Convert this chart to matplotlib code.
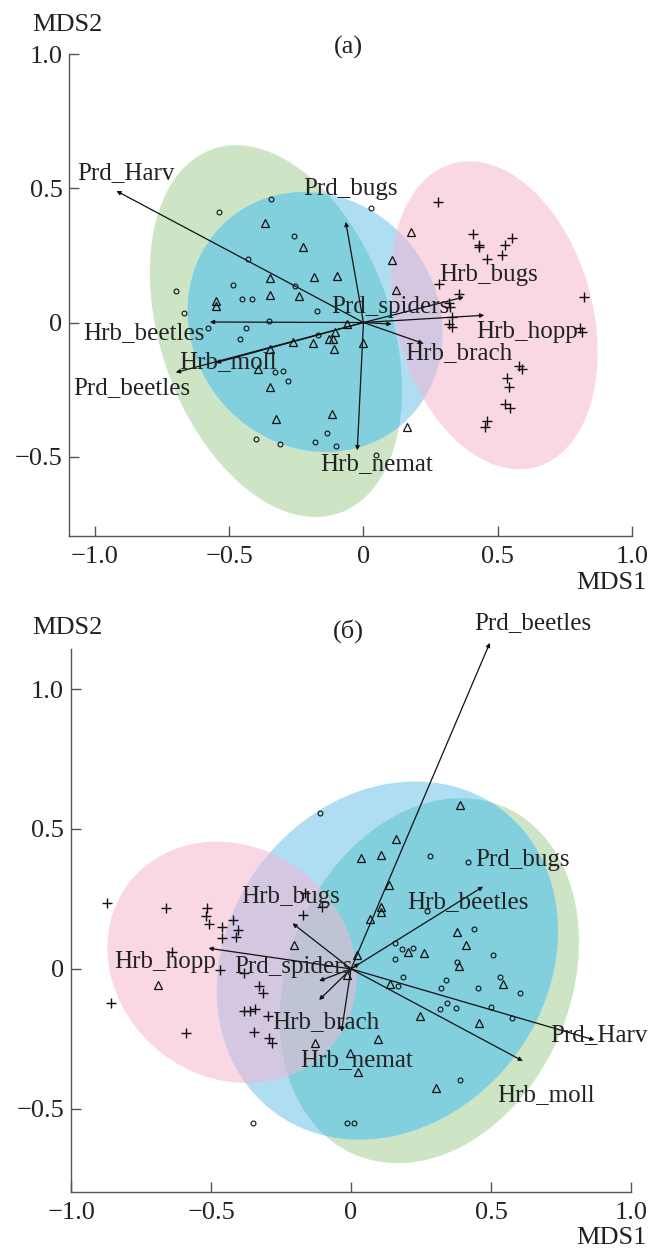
import numpy as np
import matplotlib
matplotlib.use('Agg')
import matplotlib.pyplot as plt
from matplotlib.patches import Ellipse
from matplotlib.ticker import FuncFormatter

plt.rcParams['font.family'] = ['Liberation Serif', 'DejaVu Serif']

# ---------- panel (a) ----------
circ_a_x = [-0.344, -0.538, 0.027, -0.26, -0.429, -0.699, -0.484, -0.256, -0.451, -0.415, -0.173, -0.669, -0.352,
            -0.578, -0.438, -0.458, -0.171, -0.329, -0.299, -0.282, -0.399, -0.311, -0.18, -0.135, -0.104, 0.047]
circ_a_y = [0.459, 0.411, 0.425, 0.323, 0.238, 0.118, 0.139, 0.136, 0.089, 0.086, 0.043, 0.036, 0.006,
            -0.022, -0.022, -0.062, -0.045, -0.184, -0.18, -0.216, -0.435, -0.452, -0.446, -0.413, -0.46, -0.494]
tri_a_x = [-0.367, -0.227, -0.184, -0.098, -0.348, -0.347, -0.24, -0.55, -0.55, -0.063, 0.178, 0.106, 0.122,
           0.161, -0.106, -0.264, -0.188, -0.127, -0.112, -0.111, -0.001, -0.347, -0.392, -0.348, -0.327, -0.117]
tri_a_y = [0.372, 0.28, 0.17, 0.174, 0.166, 0.102, 0.099, 0.08, 0.062, -0.006, 0.337, 0.232, 0.12,
           -0.389, -0.035, -0.072, -0.078, -0.06, -0.062, -0.099, -0.075, -0.099, -0.174, -0.241, -0.359, -0.34]
plus_a_x = [0.279, 0.409, 0.429, 0.432, 0.554, 0.528, 0.517, 0.461, 0.282, 0.82, 0.356, 0.319, 0.322,
            0.329, 0.319, 0.329, 0.807, 0.815, 0.58, 0.589, 0.536, 0.542, 0.528, 0.546, 0.459, 0.453]
plus_a_y = [0.449, 0.331, 0.288, 0.283, 0.315, 0.287, 0.252, 0.237, 0.143, 0.095, 0.105, 0.071, 0.058,
            0.021, -0.004, -0.016, -0.022, -0.035, -0.163, -0.174, -0.205, -0.24, -0.302, -0.32, -0.368, -0.389]

names = ['Prd_Harv', 'Prd_bugs', 'Prd_spiders', 'Prd_beetles', 'Hrb_bugs',
         'Hrb_beetles', 'Hrb_hopp', 'Hrb_brach', 'Hrb_moll', 'Hrb_nemat']
vec_a_x = [-0.92, -0.066, 0.105, -0.699, 0.374, -0.572, 0.45, 0.223, -0.55, -0.023]
vec_a_y = [0.49, 0.375, -0.006, -0.186, 0.095, 0.002, 0.027, -0.078, -0.15, -0.476]
lab_a_x = [-0.885, -0.047, 0.10, -0.862, 0.465, -0.817, 0.608, 0.357, -0.504, 0.05]
lab_a_y = [0.556, 0.496, 0.057, -0.245, 0.176, -0.04, -0.035, -0.115, -0.147, -0.528]

# ellipses: cx, cy, width, height, angle
ell_a = {'g': (-0.326, -0.032, 1.435, 0.86, 109.2),
         'b': (-0.18, 0.002, 1.0, 0.916, -51.3),
         'p': (0.4875, 0.027, 1.172, 0.731, 105.2)}

# ---------- panel (б) ----------
circ_b_x = [-0.111, 0.282, 0.418, 0.272, 0.44, 0.157, 0.181, 0.22, 0.157, 0.507, 0.377, 0.186, 0.169, 0.338,
            0.32, 0.454, 0.534, 0.605, 0.343, 0.317, 0.374, 0.499, 0.575, 0.391, -0.349, -0.015, 0.01]
circ_b_y = [0.556, 0.402, 0.383, 0.207, 0.142, 0.092, 0.07, 0.074, 0.036, 0.05, 0.024, -0.03, -0.06, -0.039,
            -0.067, -0.067, -0.03, -0.087, -0.12, -0.144, -0.14, -0.135, -0.176, -0.396, -0.551, -0.551, -0.551]
tri_b_x = [-0.203, -0.69, -0.128, 0.389, 0.16, 0.108, 0.035, 0.137, 0.107, 0.106, 0.068, 0.022, 0.377,
           0.412, 0.26, 0.204, 0.385, 0.139, 0.543, 0.248, 0.458, 0.097, -0.004, 0.024, 0.304, -0.015]
tri_b_y = [0.086, -0.057, -0.265, 0.586, 0.463, 0.408, 0.398, 0.299, 0.222, 0.205, 0.178, 0.05, 0.133,
           0.087, 0.058, 0.06, 0.012, -0.054, -0.054, -0.167, -0.194, -0.251, -0.301, -0.37, -0.424, -0.02]
plus_b_x = [-0.873, -0.66, -0.514, -0.517, -0.506, -0.423, -0.461, -0.404, -0.461, -0.411, -0.17, -0.166, -0.102,
            -0.639, -0.467, -0.384, -0.33, -0.316, -0.859, -0.384, -0.36, -0.342, -0.295, -0.589, -0.346, -0.292, -0.283]
plus_b_y = [0.237, 0.219, 0.217, 0.19, 0.16, 0.175, 0.151, 0.139, 0.11, 0.113, 0.193, 0.272, 0.222,
            0.062, -0.004, -0.013, -0.061, -0.087, -0.123, -0.152, -0.152, -0.143, -0.168, -0.23, -0.226, -0.248, -0.265]

vec_b_x = [0.87, 0.03, -0.114, 0.496, -0.209, 0.472, -0.509, -0.034, 0.614, -0.114]
vec_b_y = [-0.254, 0.02, -0.043, 1.165, 0.163, 0.294, 0.074, -0.224, -0.329, -0.111]
lab_b_x = [0.885, 0.614, -0.207, 0.649, -0.217, 0.416, -0.663, -0.09, 0.698, 0.021]
lab_b_y = [-0.236, 0.389, 0.008, 1.237, 0.256, 0.24, 0.026, -0.19, -0.45, -0.325]

ell_b = {'g': (0.28, -0.042, 1.352, 1.008, 66.7),
         'b': (0.13, 0.03, 1.352, 1.138, 53.2),
         'p': (-0.4255, 0.0235, 0.929, 0.82, -37.9)}

col = {'g': '#cde5c4', 'b': '#afdef3', 'p': '#f9d8e3'}
teal = '#82cfdd'
lav = '#d4c7e1'
trip = '#bec3d5'


def draw_ellipses(ax, ells):
    pt = {}
    for k in ['g', 'b', 'p']:
        cx, cy, w, h, a = ells[k]
        e = Ellipse((cx, cy), w, h, angle=a, fc=col[k], ec='none', zorder=1)
        ax.add_patch(e)
        pt[k] = e
    # overlaps
    for k, clip, c, z in [('b', 'g', teal, 1.1), ('p', 'b', lav, 1.2), ('p', 'g', trip, 1.3)]:
        cx, cy, w, h, a = ells[k]
        e = Ellipse((cx, cy), w, h, angle=a, fc=c, ec='none', zorder=z)
        ax.add_patch(e)
        e.set_clip_path(pt[clip])


def fmt(v, p):
    if abs(v) < 1e-9:
        return '0'
    return ('%.1f' % v).replace('-', '\u2212')


def setup(ax, xlim, ylim, yticks):
    ax.set_xlim(*xlim)
    ax.set_ylim(*ylim)
    ax.set_aspect('equal', adjustable='box')
    for s in ['top', 'right']:
        ax.spines[s].set_visible(False)
    for s in ['left', 'bottom']:
        ax.spines[s].set_color('#555555')
        ax.spines[s].set_linewidth(1.0)
    ax.set_xticks([-1.0, -0.5, 0, 0.5, 1.0])
    ax.set_yticks(yticks)
    ax.xaxis.set_major_formatter(FuncFormatter(fmt))
    ax.yaxis.set_major_formatter(FuncFormatter(fmt))
    ax.tick_params(direction='in', length=7, width=1, color='#555555', labelsize=19, labelcolor='#222222')
    ax.tick_params(axis='x', pad=7)
    ax.tick_params(axis='y', pad=5)


def draw_panel(ax, ells, cx, cy, tx, ty, px, py, vx, vy, lx, ly):
    draw_ellipses(ax, ells)
    for i in range(len(names)):
        ax.annotate('', xy=(vx[i], vy[i]), xytext=(0, 0), annotation_clip=False,
                    arrowprops=dict(arrowstyle='-|>', lw=0.9, color='#111111',
                                    mutation_scale=6, shrinkA=0, shrinkB=0), zorder=2)
    ax.plot(cx, cy, 'o', ms=3.5, mfc='none', mec='#111111', mew=0.8, ls='none', zorder=3)
    ax.plot(tx, ty, '^', ms=5.5, mfc='none', mec='#111111', mew=0.9, ls='none', zorder=3)
    ax.plot(px, py, '+', ms=7, mec='#111111', mew=1.0, ls='none', zorder=3)
    for i in range(len(names)):
        ax.text(lx[i], ly[i], names[i], fontsize=18, ha='center', va='center', color='#222222', zorder=4)


fig = plt.figure(figsize=(6.48, 12.5), dpi=100)

ax1 = fig.add_axes([69.4 / 648, 1 - 536 / 1250, 562.6 / 648, 482 / 1250])
setup(ax1, (-1.095, 1.0), (-0.795, 1.0), [-0.5, 0, 0.5, 1.0])
draw_panel(ax1, ell_a, circ_a_x, circ_a_y, tri_a_x, tri_a_y, plus_a_x, plus_a_y,
           vec_a_x, vec_a_y, lab_a_x, lab_a_y)

ax2 = fig.add_axes([70.5 / 648, 1 - 1192 / 1250, 561 / 648, 543 / 1250])
setup(ax2, (-1.0, 1.0), (-0.797, 1.143), [-0.5, 0, 0.5, 1.0])
draw_panel(ax2, ell_b, circ_b_x, circ_b_y, tri_b_x, tri_b_y, plus_b_x, plus_b_y,
           vec_b_x, vec_b_y, lab_b_x, lab_b_y)

fig.text(67 / 648, 1 - 25 / 1250, 'MDS2', fontsize=19, ha='center', va='center', color='#222222')
fig.text(348 / 648, 1 - 47 / 1250, '(a)', fontsize=19, ha='center', va='center', color='#222222')
fig.text(647 / 648, 1 - 583 / 1250, 'MDS1', fontsize=19, ha='right', va='center', color='#222222')
fig.text(67 / 648, 1 - 628 / 1250, 'MDS2', fontsize=19, ha='center', va='center', color='#222222')
fig.text(348 / 648, 1 - 631 / 1250, '(б)', fontsize=19, ha='center', va='center', color='#222222')
fig.text(647 / 648, 1 - 1238 / 1250, 'MDS1', fontsize=19, ha='right', va='center', color='#222222')

fig.savefig('out.png', dpi=100)
